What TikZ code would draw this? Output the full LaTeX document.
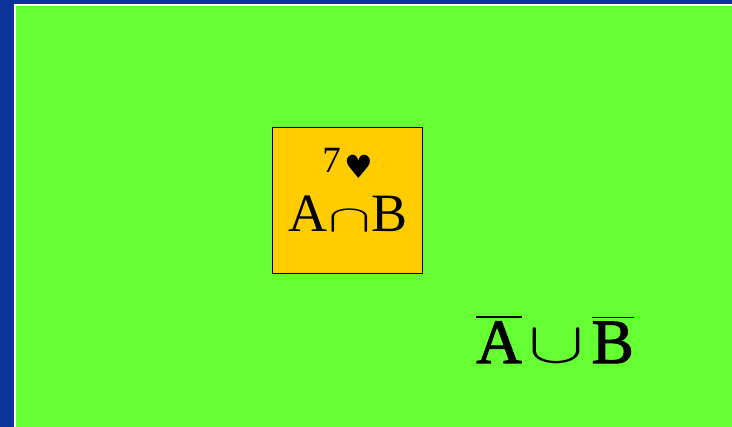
\documentclass[tikz,border=0pt]{standalone}
\usepackage{fontspec}
\usepackage{graphicx}
\setmainfont{Liberation Serif}
\newfontfamily\symfont{DejaVu Sans}
\newfontfamily\heavyserif[FakeBold=1.8]{Liberation Serif}
\definecolor{bgblue}{HTML}{0B3399}
\definecolor{fieldgreen}{HTML}{66FF33}
\definecolor{boxorange}{HTML}{FFCC00}
\newcommand{\barred}[1]{\vbox{\hrule height 1.6pt\kern 3.6pt\hbox{#1}}}
\newcommand{\bigsym}[3]{\scalebox{#1}[#2]{\fontsize{10}{12}\selectfont$#3$}}
\tikzset{
  setbox/.style={draw=black, line width=1.4pt, fill=boxorange, minimum width=150pt, minimum height=146pt, inner sep=0pt},
  label/.style={inner sep=0pt, text=black}
}
\begin{document}
\begin{tikzpicture}[x=1pt,y=-1pt]
\useasboundingbox (0,0) rectangle (732,427);
\fill[bgblue] (0,0) rectangle (732,427);
\fill[white] (14,4) rectangle (732,427);
\fill[fieldgreen] (16,6) rectangle (732,427);
\node[setbox] (ab) at (347.5,200.5) {};
\node[label, anchor=base] (card) at (348,173) {\fontsize{37}{40}\selectfont 7\hspace{4pt}\raisebox{-6pt}{\fontsize{32}{32}\selectfont\symfont ♥}};
\node[label, anchor=base] (inter) at (348,232) {\fontsize{54}{60}\selectfont A\hspace{1pt}\bigsym{6.4}{3.8}{\cap}\hspace{1pt}B};
\node[label, anchor=base] (union) at (555,363) {\fontsize{63}{70}\selectfont\heavyserif \barred{A}\hspace{7pt}\bigsym{8.4}{5.8}{\cup}\hspace{7pt}\barred{B}};
\end{tikzpicture}
\end{document}
